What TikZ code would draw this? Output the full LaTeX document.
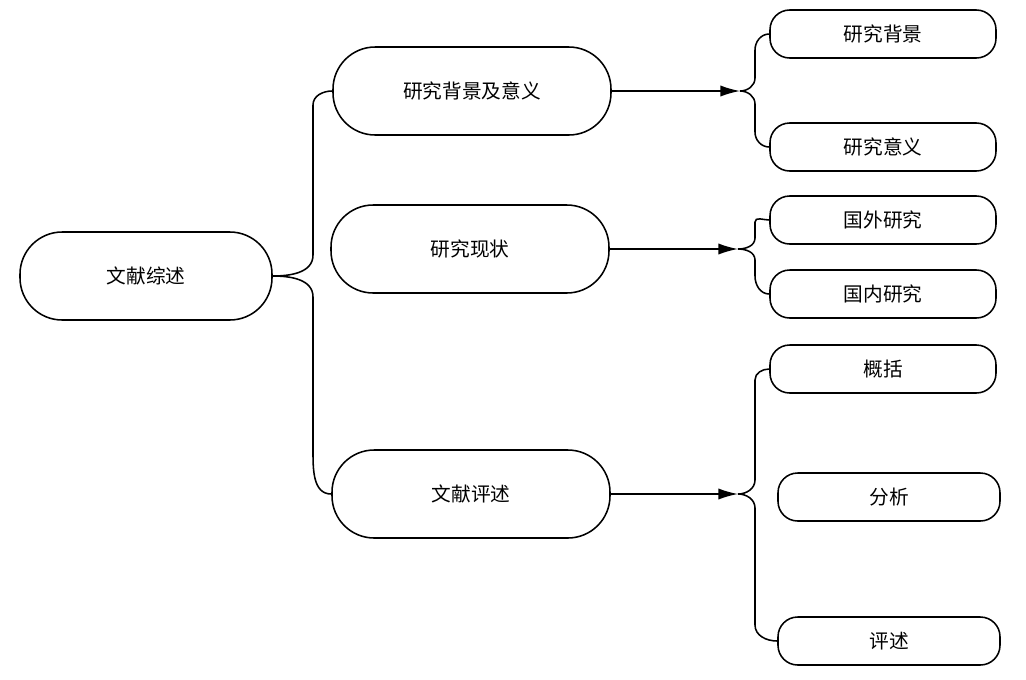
\documentclass[tikz,border=0pt]{standalone}
\usepackage{fontspec}
\setmainfont{Noto Sans CJK SC}
\usetikzlibrary{arrows.meta}
\begin{document}
\begin{tikzpicture}[x=0.025cm,y=-0.025cm,
  big/.style={draw,line width=1.1pt,rounded corners=30,minimum width=278*0.025cm,minimum height=88*0.025cm,font=\fontsize{14}{16}\selectfont},
  small/.style={draw,line width=1.1pt,rounded corners=14,minimum width=226*0.025cm,minimum height=48*0.025cm,font=\fontsize{14}{16}\selectfont},
  br/.style={line width=1.1pt},
  arr/.style={line width=1.1pt,-{Latex[length=14pt,width=8pt]}}]
\useasboundingbox (0,0) rectangle (1026,679);
\node[big,minimum width=252*0.025cm] (root) at (146,276) {文献综述};
\node[big] (a) at (472,91) {研究背景及意义};
\node[big] (b) at (470,249) {研究现状};
\node[big] (c) at (471,494) {文献评述};
\node[small] (a1) at (883,34) {研究背景};
\node[small] (a2) at (883,147) {研究意义};
\node[small] (b1) at (883,220) {国外研究};
\node[small] (b2) at (883,294) {国内研究};
\node[small] (c1) at (883,369) {概括};
\node[small,minimum width=222*0.025cm] (c2) at (889,497) {分析};
\node[small,minimum width=222*0.025cm] (c3) at (889,641) {评述};
% big brace
\draw[br] (a.west) to[out=180,in=90] (313,105) -- (313,255) to[out=-90,in=0] (root.east);
\draw[br] (c.west) to[out=180,in=-90] (313,450) -- (313,297) to[out=90,in=0] (root.east);
% right braces
\coordinate (ta) at (740,91);
\draw[arr] (a.east) -- (ta);
\draw[br] (a1.west) to[out=180,in=90] (755,50) -- (755,78) to[out=-90,in=0] (ta);
\draw[br] (a2.west) to[out=180,in=-90] (755,132) -- (755,104) to[out=90,in=0] (ta);
\coordinate (tb) at (738,249);
\draw[arr] (b.east) -- (tb);
\draw[br] (b1.west) to[out=180,in=90] (755,222) -- (755,238) to[out=-90,in=0] (tb);
\draw[br] (b2.west) to[out=180,in=-90] (755,276) -- (755,260) to[out=90,in=0] (tb);
\coordinate (tc) at (738,494);
\draw[arr] (c.east) -- (tc);
\draw[br] (c1.west) to[out=180,in=90] (755,380) -- (755,480) to[out=-90,in=0] (tc);
\draw[br] (c3.west) to[out=180,in=-90] (755,625) -- (755,508) to[out=90,in=0] (tc);
\end{tikzpicture}
\end{document}
